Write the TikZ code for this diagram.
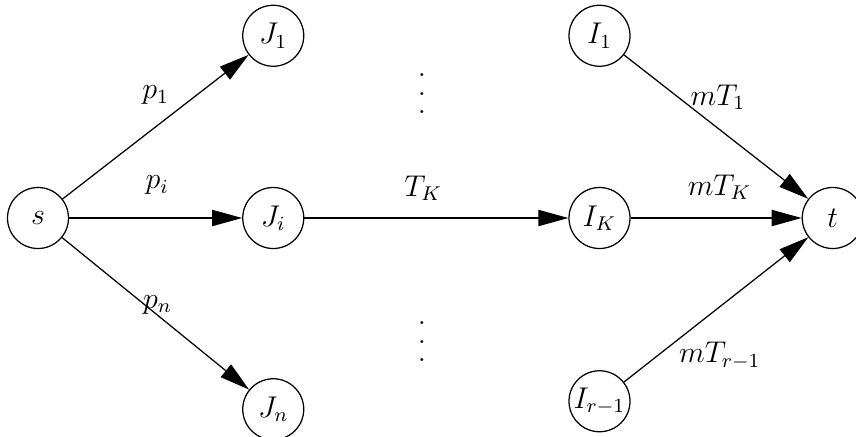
\documentclass[tikz,border=0pt]{standalone}
\usepackage{amsmath}
\usepackage{tikz}
\usetikzlibrary{positioning, arrows.meta}

\newcommand{\bigvdots}{\vbox{\baselineskip=7.4pt\lineskiplimit=0pt\hbox{.}\hbox{.}\hbox{.}}}

\begin{document}
\begin{tikzpicture}[
            every node/.style={font=\large},
            vertex/.style={circle, draw=black, line width=0.5pt, minimum size=24.4pt, inner sep=0pt},
            arrow/.style={line width=0.5pt, -{Triangle[length=12pt, width=6.5pt]}},
            lbl/.style={inner sep=0pt}
        ]

            \useasboundingbox (-15.2pt,87.2pt) rectangle (327.2pt,-87.2pt);

            % --- Nodos ---
            \node (s) [vertex] at (0,0) {$s$};

            \node (Ji) [vertex, right=69.2pt of s] {$J_i$};
            \node (J1) [vertex, above=48pt of Ji] {$J_1$};
            \node (Jn) [vertex, below=51.6pt of Ji] {$J_n$};

            \node (IK) [vertex, right=105.6pt of Ji] {$I_K$};
            \node (I1) [vertex, above=48pt of IK] {$I_1$};
            \node (Ir) [vertex, below=48.4pt of IK] {$I_{r-1}$};

            \node (t) [vertex, right=68.4pt of IK] {$t$};

            \node (dotsup) [lbl] at (153.6pt,49.6pt) {\bigvdots};
            \node (dotsdown) [lbl] at (153.6pt,-49.6pt) {\bigvdots};

            % --- Conexiones ---
            \draw [arrow] (s) -- node[lbl, pos=.5, yshift=12.6pt] {$p_1$} (J1);
            \draw [arrow] (s) -- node[lbl, pos=.51, yshift=13.2pt] {$p_i$} (Ji);
            \draw [arrow] (s) -- node[lbl, pos=.51, yshift=4.2pt] {$p_n$} (Jn);
            \draw [arrow] (Ji) -- node[lbl, pos=.45, yshift=12pt] {$T_K$} (IK);
            \draw [arrow] (I1) -- node[lbl, pos=.51, yshift=12.4pt] {$mT_1$} (t);
            \draw [arrow] (IK) -- node[lbl, pos=.52, yshift=12.4pt] {$mT_K$} (t);
            \draw [arrow] (Ir) -- node[lbl, pos=.52, yshift=-19.6pt] {$mT_{r-1}$} (t);

        \end{tikzpicture}
\end{document}
